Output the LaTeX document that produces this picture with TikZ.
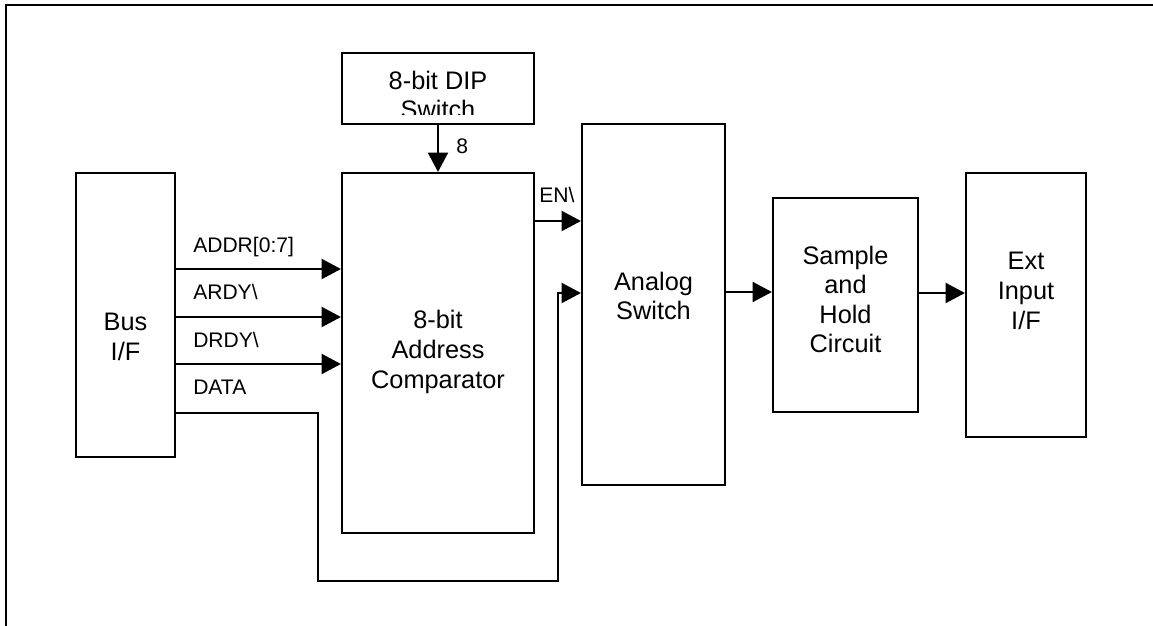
\documentclass[tikz,border=0pt]{standalone}
\usepackage{fontspec}
\setmainfont{Liberation Sans}
\usetikzlibrary{arrows.meta}
\begin{document}
\begin{tikzpicture}[x=0.75pt,y=-0.75pt,
  blk/.style={draw,line width=1.6pt,inner sep=0pt,rectangle},
  btxt/.style={align=center,inner sep=0pt,font=\fontsize{19}{22.2}\selectfont},
  lbl/.style={anchor=base west,inner sep=0pt,font=\fontsize{15.8}{18}\selectfont},
  ln/.style={line width=1.5pt},
  arr/.style={line width=1.5pt,-{Triangle[length=14.5pt,width=15pt]}}]
\useasboundingbox (0,0) rectangle (1153,625);
% outer frame (extends past the right and bottom edges)
\draw[line width=1.9pt] (6,640) -- (6,5) -- (1170,5);
% blocks
\node[blk,minimum width=144pt,minimum height=53.25pt] (dip) at (438,88.5) {};
\node[blk,minimum width=144pt,minimum height=270pt] (comp) at (438,353) {};
\node[blk,minimum width=74.25pt,minimum height=213pt] (bus) at (125.5,315) {};
\node[blk,minimum width=107.25pt,minimum height=270.75pt] (anasw) at (653.5,304.5) {};
\node[blk,minimum width=108.75pt,minimum height=160.5pt] (sh) at (845.5,305) {};
\node[blk,minimum width=90pt,minimum height=198pt] (ext) at (1026,305) {};
% block texts
\begin{scope}
\clip (342,53) rectangle (534,114);
\node[btxt] (diptxt) at (438,95) {8-bit DIP\\Switch};
\end{scope}
\node[btxt] (comptxt) at (438,352) {8-bit\\Address\\Comparator};
\node[btxt] (bustxt) at (125.5,337) {Bus\\I/F};
\node[btxt] (anaswtxt) at (653.5,296) {Analog\\Switch};
\node[btxt] (shtxt) at (845.5,299.5) {Sample\\and\\Hold\\Circuit};
\node[btxt] (exttxt) at (1026,291) {Ext\\Input\\I/F};
% connectors
\draw[arr] (dip.south) -- (comp.north);
\node[lbl] (l8) at (456,153) {8};
\draw[arr] (bus.east |- 0,269) -- (comp.west |- 0,269);
\draw[arr] (bus.east |- 0,317) -- (comp.west |- 0,317);
\draw[arr] (bus.east |- 0,364) -- (comp.west |- 0,364);
\node[lbl] (laddr) at (193,252) {ADDR[0:7]};
\node[lbl] (lardy) at (193,299) {ARDY\textbackslash};
\node[lbl] (ldrdy) at (193,347) {DRDY\textbackslash};
\node[lbl] (ldata) at (193,394) {DATA};
\coordinate (d1) at (318,413);
\coordinate (d2) at (318,581);
\coordinate (d3) at (558,581);
\coordinate (d4) at (558,293);
\draw[arr] (bus.east |- d1) -- (d1) -- (d2) -- (d3) -- (d4) -- (anasw.west |- d4);
\draw[arr] (comp.east |- 0,221) -- (anasw.west |- 0,221);
\node[lbl] (len) at (539,202) {EN\textbackslash};
\draw[arr] (anasw.east |- 0,292) -- (sh.west |- 0,292);
\draw[arr] (sh.east |- 0,293) -- (ext.west |- 0,293);
\end{tikzpicture}
\end{document}
